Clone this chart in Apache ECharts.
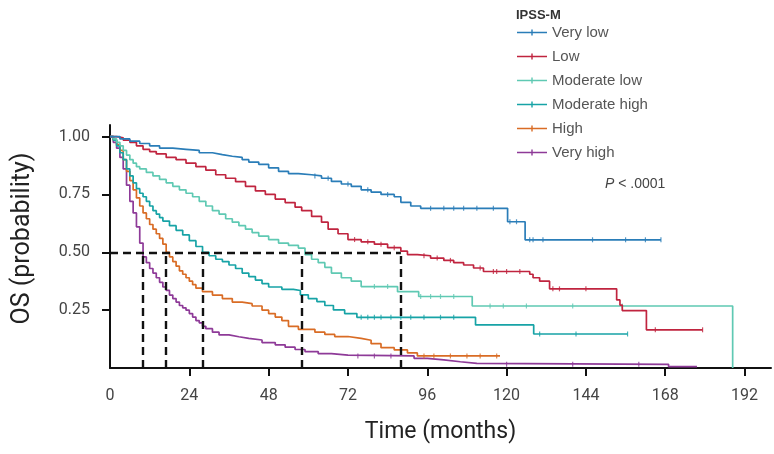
<!DOCTYPE html>
<html>
<head>
<meta charset="utf-8">
<script src="https://cdn.jsdelivr.net/npm/echarts@6/dist/echarts.min.js"></script>
<style>html,body{margin:0;padding:0;background:#fff}#c{width:774px;height:454px}</style>
</head>
<body>
<div id="c"></div>
<script>
var groupNames = ['Very low', 'Low', 'Moderate low', 'Moderate high', 'High', 'Very high'];
var groupColors = ['#2a7db8', '#c0243f', '#5fc9b3', '#17a3a6', '#d96c25', '#8e3a98'];

var veryLow = [[0,1],[3,0.99],[6,0.98],[9,0.97],[12,0.96],[15,0.95],[19,0.945],[23,0.94],[27,0.93],[31,0.922],[34,0.915],[37,0.91],[40,0.9],[42,0.89],[45,0.88],[48,0.865],[51,0.85],[54,0.84],[57,0.835],[61,0.83],[64,0.82],[67,0.806],[70,0.795],[73,0.785],[76,0.77],[79,0.76],[82,0.75],[86,0.74],[88,0.716],[91,0.7],[94,0.69],[120.3,0.632],[125.6,0.554],[166.7,0.554]];
var low = [[0,1],[2,0.995],[4,0.985],[6,0.975],[8,0.96],[10,0.945],[12,0.935],[14,0.925],[17,0.91],[20,0.9],[23,0.885],[26,0.87],[29,0.855],[32,0.835],[35,0.82],[38,0.805],[41,0.785],[44,0.765],[47,0.75],[50,0.73],[53,0.715],[56,0.695],[58,0.68],[61,0.655],[64,0.63],[66,0.6],[69,0.58],[72,0.555],[76,0.545],[80,0.535],[84,0.52],[88,0.505],[90,0.49],[93,0.485],[97,0.475],[101,0.465],[104,0.455],[107,0.445],[110,0.432],[113,0.417],[127,0.405],[128,0.39],[130,0.375],[133,0.342],[153.3,0.294],[154.3,0.272],[155,0.248],[162.3,0.165],[179.3,0.165]];
var moderateLow = [[0,1],[1,0.99],[2,0.975],[3,0.96],[4,0.94],[5,0.92],[6,0.9],[7,0.885],[8,0.87],[9,0.86],[11,0.845],[13,0.83],[15,0.815],[17,0.8],[19,0.785],[21,0.77],[23,0.755],[25,0.74],[27,0.72],[29,0.7],[31,0.68],[33,0.665],[35,0.645],[37,0.63],[39,0.615],[41,0.6],[43,0.585],[45,0.57],[48,0.555],[51,0.54],[54,0.53],[57,0.518],[59,0.49],[61,0.47],[63,0.455],[65,0.435],[67,0.41],[70,0.39],[73,0.375],[76,0.352],[87,0.33],[93.4,0.309],[109.6,0.268],[188.4,0]];
var moderateHigh = [[0,1],[1,0.985],[2,0.96],[3,0.93],[4,0.9],[5,0.86],[6,0.83],[7,0.8],[8,0.775],[9,0.755],[10,0.74],[11,0.72],[12,0.7],[13,0.68],[14,0.665],[15,0.65],[16,0.635],[18,0.615],[20,0.595],[22,0.575],[24,0.55],[26,0.525],[28,0.5],[30,0.485],[32,0.47],[34,0.46],[36,0.445],[38,0.43],[40,0.41],[42,0.395],[44,0.38],[46,0.365],[48,0.35],[52,0.34],[55.5,0.335],[57.6,0.316],[60,0.3],[62.6,0.287],[65,0.27],[67.6,0.251],[71,0.235],[74.7,0.219],[110.6,0.186],[128.2,0.147],[156.6,0.147]];
var high = [[0,1],[1,0.985],[2,0.965],[3,0.94],[4,0.9],[5,0.85],[6,0.81],[7,0.77],[8,0.735],[9,0.7],[10,0.67],[11,0.645],[12,0.62],[13,0.6],[14,0.58],[15,0.56],[16,0.535],[17,0.5],[18,0.48],[19,0.46],[20,0.44],[21,0.42],[22,0.405],[23,0.39],[24,0.375],[25,0.36],[26,0.345],[28,0.33],[31,0.315],[34,0.3],[37,0.285],[40,0.278],[43,0.268],[46,0.25],[48,0.235],[50,0.22],[52,0.205],[54,0.18],[57,0.167],[62,0.155],[65,0.145],[68,0.136],[72,0.128],[76,0.12],[79,0.105],[82,0.088],[86,0.078],[90,0.065],[93,0.052],[118,0.052]];
var veryHigh = [[0,1],[1,0.975],[2,0.95],[3,0.91],[4,0.86],[5,0.79],[6,0.72],[7,0.67],[8,0.61],[9,0.54],[10,0.48],[11,0.455],[12,0.43],[13,0.41],[14,0.39],[15,0.37],[16,0.35],[17,0.335],[18,0.315],[19,0.3],[20,0.285],[21,0.27],[22,0.26],[23,0.25],[24,0.235],[25,0.22],[26,0.205],[27,0.195],[28,0.18],[29,0.17],[31,0.155],[33,0.143],[36,0.135],[39,0.128],[42,0.121],[46,0.11],[50,0.1],[53,0.09],[56,0.08],[59,0.071],[63,0.062],[67,0.056],[72,0.052],[92,0.042],[96,0.035],[101,0.027],[106,0.02],[111,0.016],[169,0.006],[177.6,0.006]];

var censorVeryLow = [62,66,72,78,84,97,101,104,107,111,116,121,123,127,128,131,146,156,162,166.7];
var censorLow = [74,78,82,86,95,99,103,112,116,117,120,124,134,136,144,165,179.3];
var censorModerateLow = [80,84,94,97,100,104,115,119,126,140,155];
var censorModerateHigh = [76,78,80,82,85,88,91,95,100,104,130,141,156.6];
var censorHigh = [95,98,103,108,112,117];
var censorVeryHigh = [75,80,85,120,140,160];

var medianTimes = [10, 17, 28, 58, 88];
var medianLevel = 0.5;

var xTickValues = [24, 48, 72, 96, 120, 144, 168, 192];
var xLabelValues = [0, 24, 48, 72, 96, 120, 144, 168, 192];
var yTickValues = [0.25, 0.5, 0.75, 1.0];

var curves = [veryLow, low, moderateLow, moderateHigh, high, veryHigh];
var censors = [censorVeryLow, censorLow, censorModerateLow, censorModerateHigh, censorHigh, censorVeryHigh];

function stepValue(curve, t) {
  var v = curve[0][1];
  for (var i = 0; i < curve.length; i++) { if (curve[i][0] <= t) v = curve[i][1]; }
  return v;
}

var series = [];
curves.forEach(function (c, i) {
  series.push({
    name: groupNames[i], type: 'line', step: 'end', data: c, showSymbol: false,
    lineStyle: { width: 1.7, color: groupColors[i] }, itemStyle: { color: groupColors[i] },
    z: 2 + (5 - i) * 0.01
  });
});
censors.forEach(function (cs, i) {
  series.push({
    name: groupNames[i] + ' censored', type: 'scatter', symbol: 'rect', symbolSize: [1.2, 5],
    data: cs.map(function (t) { return [t, stepValue(curves[i], t)]; }),
    itemStyle: { color: groupColors[i] }, z: 2, silent: true
  });
});
var ml = [[{ coord: [0, medianLevel] }, { coord: [Math.max.apply(null, medianTimes), medianLevel] }]];
medianTimes.forEach(function (m) { ml.push([{ coord: [m, 0] }, { coord: [m, medianLevel] }]); });
series.push({
  name: 'medians', type: 'line', data: [], z: 5,
  markLine: { silent: true, symbol: ['none', 'none'], label: { show: false },
    lineStyle: { color: '#111', width: 2.4, type: [8, 5] }, data: ml }
});

var chart = echarts.init(document.getElementById('c'), null, { renderer: 'canvas' });
chart.setOption({
  animation: false,
  backgroundColor: '#fff',
  title: [
    { text: 'IPSS-M', left: 511, top: 4, textStyle: { fontFamily: 'Liberation Sans', fontSize: 13, fontWeight: 'bold', color: '#333' } },
    { text: '{i|P} < .0001', left: 600, top: 172, textStyle: { fontFamily: 'Liberation Sans', fontSize: 14, fontWeight: 'normal', color: '#444',
      rich: { i: { fontStyle: 'italic', fontWeight: 'normal', fontFamily: 'Liberation Sans', fontSize: 14, color: '#444' } } } }
  ],
  legend: {
    data: groupNames, orient: 'vertical', left: 512, top: 20, itemWidth: 30, itemHeight: 8, itemGap: 9,
    icon: 'path://M0,3.2H30V4.8H0Z M14.3,1H15.7V7H14.3Z',
    textStyle: { fontFamily: 'Liberation Sans', fontSize: 15, color: '#555' },
    selectedMode: false
  },
  grid: { left: 110, right: 3, top: 125, bottom: 86, containLabel: false },
  xAxis: {
    type: 'value', min: 0, max: 200,
    name: 'Time (months)', nameLocation: 'middle', nameGap: 53,
    nameTextStyle: { fontFamily: 'Roboto', fontSize: 23, color: '#222' },
    axisLine: { lineStyle: { color: '#111', width: 2 } },
    axisTick: { customValues: xTickValues, length: 8, lineStyle: { color: '#111', width: 2 } },
    axisLabel: { customValues: xLabelValues, margin: 20, fontFamily: 'Roboto', fontSize: 16, color: '#444' },
    splitLine: { show: false }
  },
  yAxis: {
    type: 'value', min: 0, max: 1.05,
    name: 'OS (probability)', nameLocation: 'middle', nameGap: 75,
    nameTextStyle: { fontFamily: 'Roboto', fontSize: 25, color: '#222', padding: [0, 0, 0, 16] },
    axisLine: { show: true, lineStyle: { color: '#111', width: 2 } },
    axisTick: { show: true, customValues: yTickValues, length: 8, lineStyle: { color: '#111', width: 2 } },
    axisLabel: { customValues: yTickValues, margin: 20, fontFamily: 'Roboto', fontSize: 16, color: '#444',
      formatter: function (v) { return v.toFixed(2); } },
    splitLine: { show: false }
  },
  series: series
});
</script>
</body>
</html>
